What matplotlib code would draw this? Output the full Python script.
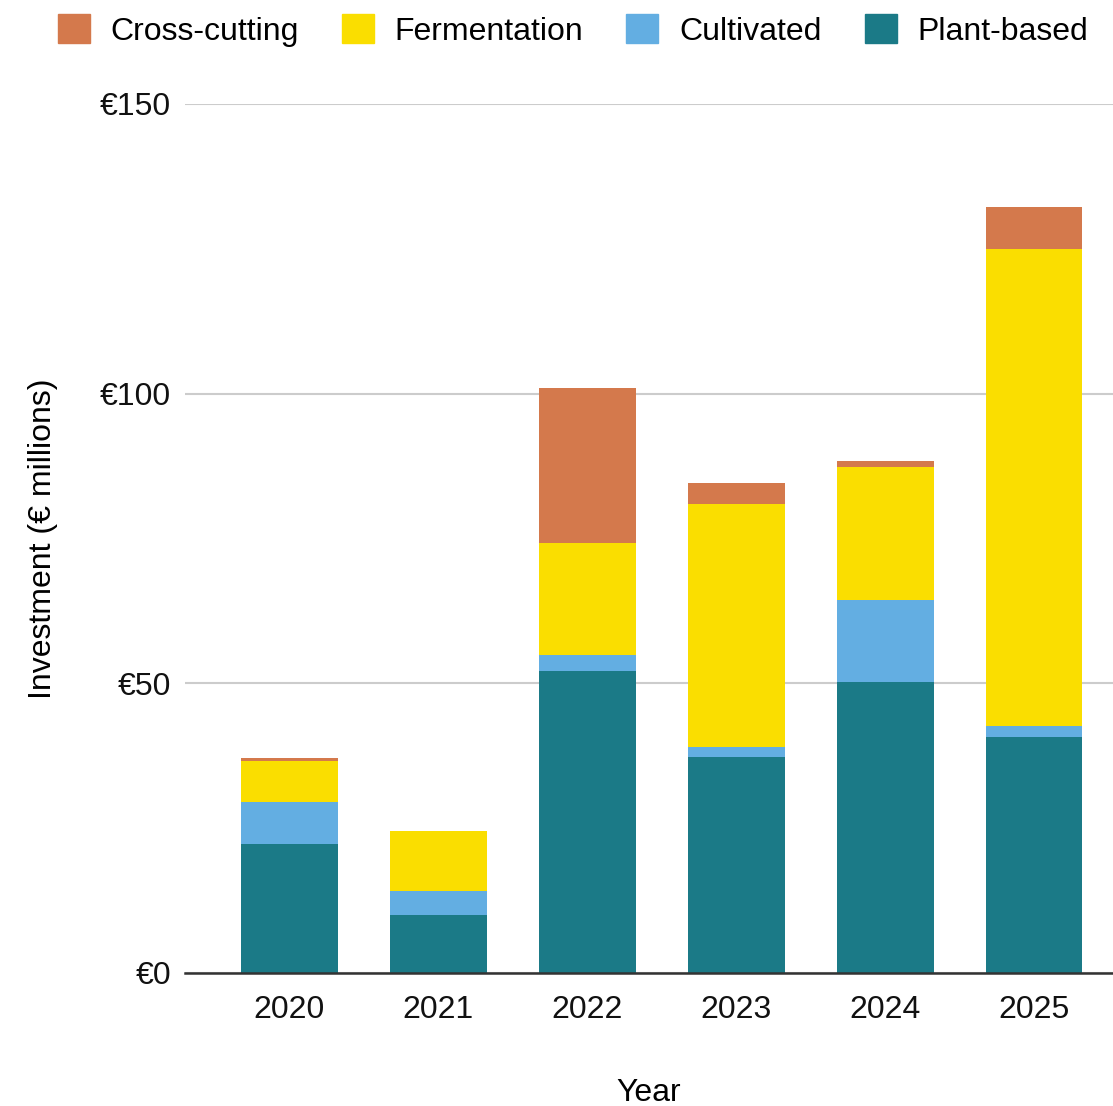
import numpy as np
import matplotlib.pyplot as plt
from matplotlib.patches import Patch

plt.rcParams['font.family'] = ['Liberation Sans', 'DejaVu Sans']

# investment per year, € millions
years = ["2020", "2021", "2022", "2023", "2024", "2025"]
plant_based = [22.3, 10.0, 52.1, 37.2, 50.2, 40.8]
cultivated = [7.2, 4.1, 2.7, 1.8, 14.1, 1.8]
fermentation = [7.1, 10.4, 19.4, 42.0, 23.1, 82.4]
cross_cutting = [0.5, 0.0, 26.7, 3.6, 0.9, 7.2]

series = [
    ("Plant-based", plant_based, "#1b7a87"),
    ("Cultivated", cultivated, "#63aee2"),
    ("Fermentation", fermentation, "#fade00"),
    ("Cross-cutting", cross_cutting, "#d4794c"),
]

fig = plt.figure(figsize=(11.13, 11.06), dpi=100)
ax = fig.add_axes([0.1662, 0.1203, 0.8338, 0.7857])

x = np.arange(len(years))
bottom = np.zeros(len(years))
for name, vals, col in series:
    vals = np.array(vals)
    ax.bar(x, vals, width=0.65, bottom=bottom, color=col, zorder=3, linewidth=0)
    bottom += vals

ax.set_xlim(-0.70, 5.53)
ax.set_ylim(0, 150)
ax.set_yticks([0, 50, 100, 150])
ax.set_yticklabels(["€0", "€50", "€100", "€150"])
ax.set_xticks(x)
ax.set_xticklabels(years)
ax.tick_params(axis='both', length=0, labelsize=23, colors="#111111")
ax.tick_params(axis='y', pad=10)
ax.tick_params(axis='x', pad=16)

ax.grid(axis='y', color="#cccccc", linewidth=1.5, zorder=0)
for s in ["top", "right", "left"]:
    ax.spines[s].set_visible(False)
ax.spines["bottom"].set_color("#333333")
ax.spines["bottom"].set_linewidth(1.8)
ax.spines["bottom"].set_zorder(4)

ax.set_xlabel("Year", fontsize=23, labelpad=38)
ax.set_ylabel("Investment (€ millions)", fontsize=23, labelpad=30)

handles = [Patch(color=col, label=name) for name, _, col in series[::-1]]
fig.legend(handles=handles, loc="upper left", bbox_to_anchor=(0.026, 1.013), ncol=4,
           frameon=False, fontsize=23, handlelength=1.0, handleheight=1.0,
           columnspacing=1.35, handletextpad=0.65)

fig.savefig("out.png", dpi=100)
